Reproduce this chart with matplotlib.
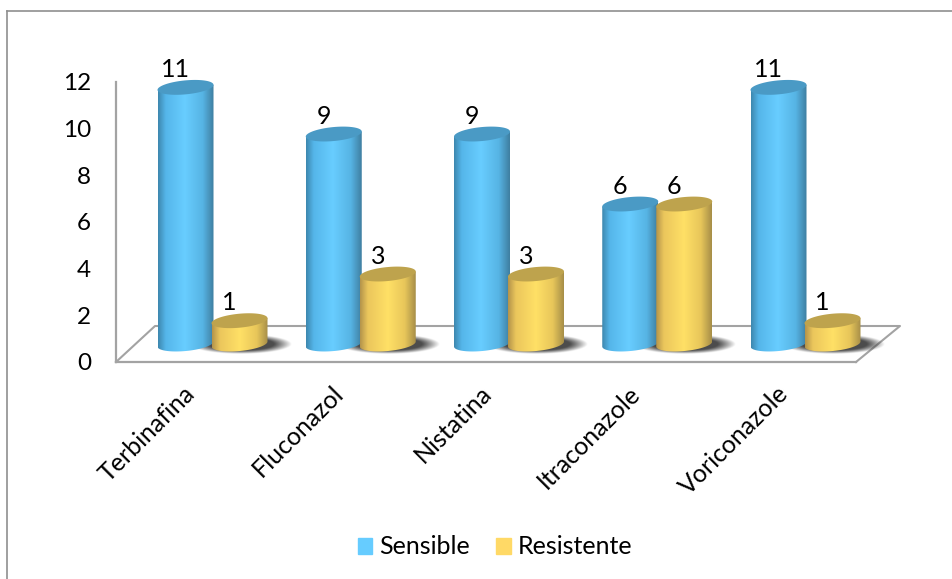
import numpy as np
import matplotlib
matplotlib.use('Agg')
import matplotlib.pyplot as plt
import matplotlib.transforms as mtrans
from matplotlib.colors import LinearSegmentedColormap
from matplotlib.lines import Line2D
from matplotlib.patches import Patch, Polygon

categories = ['Terbinafina', 'Fluconazol', 'Nistatina', 'Itraconazole', 'Voriconazole']
sensible = [11, 9, 9, 6, 11]
resistente = [1, 3, 3, 6, 1]
yticks = [0, 2, 4, 6, 8, 10, 12]

W, H = 952, 579
plt.rcParams['font.family'] = ['Lato', 'DejaVu Sans']

fig = plt.figure(figsize=(W / 100, H / 100), dpi=100, facecolor='white')
ax = fig.add_axes([116 / W, 1 - 362 / H, 740 / W, 280 / H])

# scale of the axes, pixels per data unit
px_x = 148.25
px_y = 280 / 12
ax.set_xlim(-(212.5 - 116) / px_x, (856 - 212.5) / px_x)
ax.set_ylim(0, 12)

GRAY = '#a3a3a3'
depth = 0.77         # bars stand this far up the floor
half_w = 28 / px_x
b_y = 7 / px_y
tilt = 0.09
offset = 27 / px_x

blue_body = LinearSegmentedColormap.from_list('b', [(0, '#3d87ae'), (0.14, '#55b6ea'), (0.48, '#68cdff'),
                                                    (0.8, '#56b4e4'), (1, '#3f7ea0')])
yellow_body = LinearSegmentedColormap.from_list('y', [(0, '#b3934a'), (0.14, '#ebc65c'), (0.5, '#ffe066'),
                                                      (0.8, '#e8c65a'), (1, '#a68e48')])


def ring(cx, cy, t):
    dx = np.cos(t)
    return cx + half_w * dx, cy + b_y * np.sin(t) + tilt * 28 * dx / px_y


def draw_shadow(cx, z):
    # soft dark patch on the floor, right of the bar
    x0, x1 = cx - 50 / px_x, cx + 52 / px_x
    y0, y1 = depth - 10 / px_y, depth + 10 / px_y
    xx, yy = np.meshgrid(np.linspace(-1, 1, 200), np.linspace(-1, 1, 60))
    r = np.sqrt(xx ** 2 + yy ** 2)
    img = np.zeros((60, 200, 4))
    img[..., :3] = 0.22
    img[..., 3] = np.clip((1 - r ** 1.5) * 1.9, 0, 0.9)
    im = ax.imshow(img, extent=[x0, x1, y0, y1], origin='lower', aspect='auto', zorder=z,
                   interpolation='bilinear')
    im.set_clip_box(fig.bbox)


def draw_cylinder(cx, value, cmap, top_color, z):
    y_top = value + depth
    t_low = np.linspace(np.pi, 2 * np.pi, 60)
    bx, by = ring(cx, depth, t_low)
    body = np.column_stack([np.r_[cx - half_w, bx, cx + half_w],
                            np.r_[y_top - tilt * 28 / px_y, by, y_top + tilt * 28 / px_y]])
    clip = Polygon(body, closed=True, transform=ax.transData)
    grad = np.linspace(0, 1, 256).reshape(1, -1)
    im = ax.imshow(grad, cmap=cmap, extent=[cx - half_w, cx + half_w, 0, y_top + 1], aspect='auto',
                   zorder=z, interpolation='bilinear')
    im.set_clip_path(clip)
    im.set_clip_box(fig.bbox)
    tx, ty = ring(cx, y_top, np.linspace(0, 2 * np.pi, 80))
    ax.fill(tx, ty, color=top_color, lw=0, zorder=z + 0.1, clip_on=False)


# floor
floor_x = [-(212.5 - 116) / px_x, -(212.5 - 155) / px_x, (900 - 212.5) / px_x, (856 - 212.5) / px_x]
floor_y = [0, 36 / px_y, 36 / px_y, 0]
ax.plot(floor_x, floor_y, color=GRAY, lw=1.5, clip_on=False, zorder=1)

for i in range(len(categories)):
    draw_shadow(i + offset, 2)
    draw_cylinder(i - offset, sensible[i], blue_body, '#4a9ac5', 3 + i * 2)
    draw_cylinder(i + offset, resistente[i], yellow_body, '#bea34d', 4 + i * 2)
    ax.annotate(str(sensible[i]), (i - offset, sensible[i] + depth), xytext=(-10, 18),
                textcoords='offset pixels', ha='center', va='center', fontsize=18, color='black', zorder=20)
    ax.annotate(str(resistente[i]), (i + offset, resistente[i] + depth), xytext=(-10, 18),
                textcoords='offset pixels', ha='center', va='center', fontsize=18, color='black', zorder=20)

ax.set_xlim(-(212.5 - 116) / px_x, (856 - 212.5) / px_x)
ax.set_ylim(0, 12)
ax.set_facecolor('none')

for s in ['top', 'right']:
    ax.spines[s].set_visible(False)
for s in ['left', 'bottom']:
    ax.spines[s].set_color(GRAY)
    ax.spines[s].set_linewidth(1.6)

ax.set_yticks(yticks)
ax.set_yticklabels([str(v) for v in yticks], fontsize=17.5)
ax.tick_params(axis='y', length=0, pad=18)
ax.set_xticks(range(len(categories)))
ax.set_xticklabels(categories, fontsize=18, rotation=45, ha='right', va='center', rotation_mode='anchor')
ax.tick_params(axis='x', length=0, pad=20)
shift = mtrans.ScaledTranslation(-21 / 100, 0, fig.dpi_scale_trans)
for lab in ax.get_xticklabels():
    lab.set_transform(lab.get_transform() + shift)

# chart border, only top and left show
fig.add_artist(Line2D([7 / W, 7 / W], [0, 1 - 10.5 / H], color='#8f8f8f', lw=1.2))
fig.add_artist(Line2D([7 / W, 1], [1 - 10.5 / H, 1 - 10.5 / H], color='#8f8f8f', lw=1.2))

handles = [Patch(color='#66ccff', label='Sensible'), Patch(color='#ffd966', label='Resistente')]
fig.legend(handles=handles, loc='center', bbox_to_anchor=(495 / W, 1 - 547 / H), ncol=2, frameon=False,
           fontsize=18, handlelength=0.58, handleheight=0.62, handletextpad=0.28, columnspacing=1.04)

fig.savefig('out.png', dpi=100)
